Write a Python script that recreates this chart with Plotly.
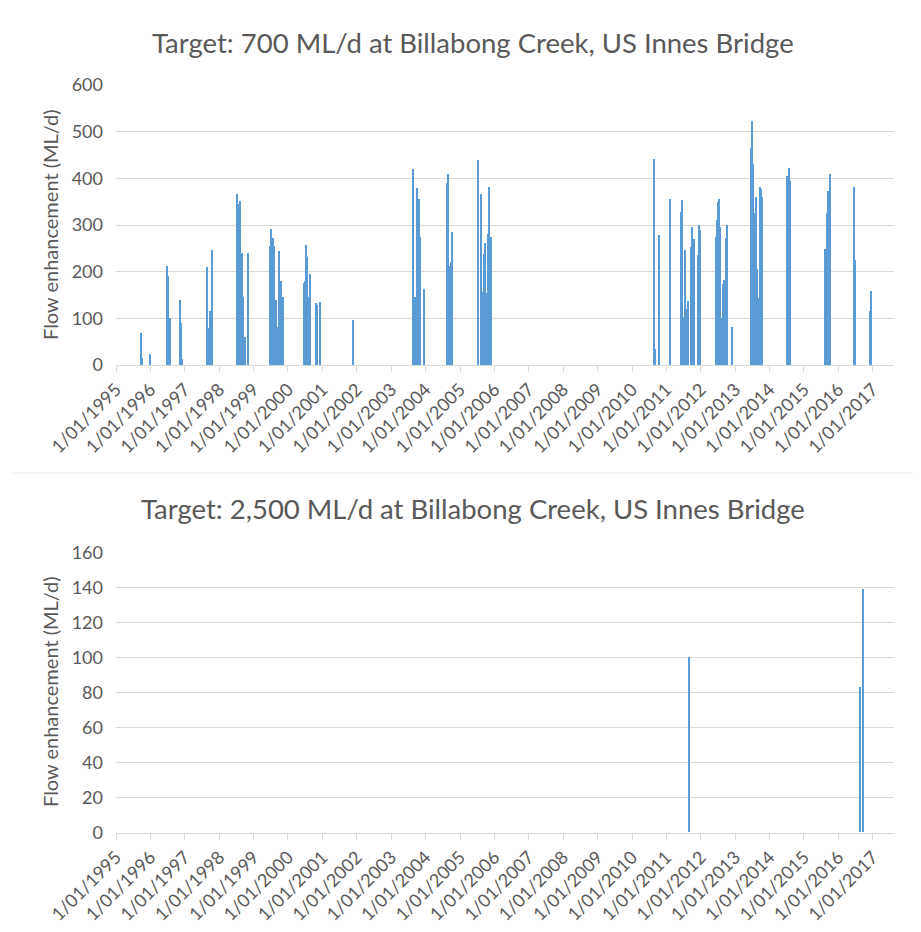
import plotly.graph_objects as go

# ---------------- data ----------------
top_dates = [
    "1995-09-28", "1995-10-08", "1995-12-27",
    "1996-07-01", "1996-07-11", "1996-07-20", "1996-07-30",
    "1996-11-16", "1996-11-26", "1996-12-07",
    "1997-08-27", "1997-09-20", "1997-10-01", "1997-10-22",
    "1998-07-06", "1998-07-20", "1998-07-27", "1998-08-10", "1998-08-21",
    "1998-09-02", "1998-09-14", "1998-10-04", "1998-10-31",
    "1999-06-24", "1999-07-05", "1999-07-14", "1999-07-24", "1999-08-04",
    "1999-08-11", "1999-08-27", "1999-09-07", "1999-09-30", "1999-10-21",
    "1999-11-01", "1999-11-11",
    "2000-06-17", "2000-06-30", "2000-07-08", "2000-07-18", "2000-07-29",
    "2000-08-18", "2000-10-24", "2000-11-07", "2000-12-06",
    "2001-11-19",
    "2003-08-26", "2003-08-31", "2003-09-14", "2003-09-29", "2003-10-07",
    "2003-10-20", "2003-10-31", "2003-12-12",
    "2004-08-18", "2004-08-31", "2004-09-19", "2004-09-30", "2004-10-13",
    "2005-07-09", "2005-08-12", "2005-08-23", "2005-09-02", "2005-09-16",
    "2005-09-26", "2005-10-12", "2005-10-25", "2005-11-08", "2005-11-24",
    "2010-08-19", "2010-08-26", "2010-09-02", "2010-10-11", "2010-10-20",
    "2011-02-06",
    "2011-06-05", "2011-06-14", "2011-07-09", "2011-07-20", "2011-07-28",
    "2011-08-08", "2011-08-22", "2011-09-25", "2011-10-03", "2011-10-14",
    "2011-10-24", "2011-11-29", "2011-12-10", "2011-12-16", "2011-12-27",
    "2012-06-10", "2012-06-21", "2012-06-30", "2012-07-09", "2012-07-20",
    "2012-08-13", "2012-08-27", "2012-09-07", "2012-09-14", "2012-09-28",
    "2012-10-07", "2012-12-03",
    "2013-06-16", "2013-06-28", "2013-07-06", "2013-07-18", "2013-08-02",
    "2013-08-15", "2013-08-24", "2013-09-05", "2013-09-18", "2013-09-30",
    "2013-10-15",
    "2014-07-10", "2014-07-21", "2014-07-31", "2014-08-11",
    "2015-08-17", "2015-08-31", "2015-09-11", "2015-09-21", "2015-10-02",
    "2016-06-18", "2016-06-25", "2016-11-28", "2016-12-09",
]
top_values = [
    68, 14, 23,
    213, 191, 71, 100,
    139, 89, 12,
    209, 79, 116, 246,
    366, 345, 345, 351, 129,
    239, 146, 61, 241,
    255, 291, 226, 272, 251,
    255, 139, 82, 244, 180,
    107, 145,
    176, 181, 257, 232, 145,
    195, 133, 129, 136,
    97,
    420, 78, 146, 358, 380,
    356, 274, 162,
    391, 410, 213, 221, 285,
    439, 366, 156, 141, 237,
    261, 154, 281, 382, 274,
    437, 441, 34, 169, 279,
    356,
    327, 353, 102, 246, 120,
    50, 138, 252, 296, 248,
    271, 236, 299, 226, 289,
    275, 310, 350, 356, 296,
    101, 174, 182, 29, 272,
    301, 81,
    466, 523, 431, 325, 299,
    361, 206, 143, 382, 378,
    361,
    406, 348, 422, 395,
    249, 326, 373, 237, 409,
    382, 224, 116, 159,
]

bottom_dates = ["2011-09-01", "2016-08-14", "2016-08-21", "2016-09-15"]
bottom_values = [100, 12, 83, 139]

tick_dates = [f"{y}-01-01" for y in range(1995, 2018)]
tick_labels = [f"1/01/{y}" for y in range(1995, 2018)]

title_top = "Target: 700 ML/d at Billabong Creek, US Innes Bridge"
title_bottom = "Target: 2,500 ML/d at Billabong Creek, US Innes Bridge"
y_title = "Flow enhancement (ML/d)"

# ---------------- figure ----------------
# page body has an 8px margin; size the figure so it fills the 921x932 window
OFF = 8
W, H = 905, 916
BAR = "#5b9bd5"
GRID = "#d9d9d9"
TXT = "#595959"
FONT = "Lato"
day_ms = 86400000

def px_x(p):
    return (p - OFF) / W

def px_y(p):
    return 1 - (p - OFF) / H

fig = go.Figure()
fig.add_trace(go.Bar(x=top_dates, y=top_values, width=[12 * day_ms] * len(top_dates),
                     marker=dict(color=BAR, line=dict(width=0)),
                     xaxis="x", yaxis="y", showlegend=False))
fig.add_trace(go.Bar(x=bottom_dates, y=bottom_values, width=[8 * day_ms] * len(bottom_dates),
                     marker=dict(color=BAR, line=dict(width=0)),
                     xaxis="x2", yaxis="y2", showlegend=False))

xdom = [px_x(116), px_x(894)]
xcommon = dict(
    type="date", range=["1995-01-01", "2017-08-14"], automargin=False,
    tickmode="array", tickvals=tick_dates, ticktext=tick_labels,
    tickangle=-45, ticks="outside", ticklen=6, tickcolor=GRID, tickwidth=1,
    showline=True, linecolor=GRID, linewidth=1, showgrid=False, zeroline=False,
    tickfont=dict(family=FONT, size=18, color=TXT), domain=xdom,
)
ycommon = dict(
    showgrid=True, gridcolor=GRID, gridwidth=1, zeroline=False, showline=False,
    automargin=False,
    ticks="", tickfont=dict(family=FONT, size=18, color=TXT), ticklabelstandoff=12,
)

fig.update_layout(
    width=W, height=H,
    margin=dict(l=0, r=0, t=0, b=0, autoexpand=False),
    paper_bgcolor="white", plot_bgcolor="white",
    bargap=0,
    xaxis=dict(**xcommon, anchor="y"),
    yaxis=dict(**ycommon, range=[0, 600], dtick=100, domain=[px_y(365), px_y(85)], anchor="x"),
    xaxis2=dict(**xcommon, anchor="y2"),
    yaxis2=dict(**ycommon, range=[0, 160], dtick=20, domain=[px_y(832.7), px_y(552.3)], anchor="x2"),
    annotations=[
        dict(text=title_top, x=px_x(473), y=px_y(42), xref="paper", yref="paper",
             xanchor="center", yanchor="middle", showarrow=False,
             font=dict(family=FONT, size=27.5, color=TXT)),
        dict(text=title_bottom, x=px_x(473), y=px_y(508), xref="paper", yref="paper",
             xanchor="center", yanchor="middle", showarrow=False,
             font=dict(family=FONT, size=27.5, color=TXT)),
        dict(text=y_title, x=px_x(50), y=px_y(225), xref="paper", yref="paper",
             xanchor="center", yanchor="middle", showarrow=False, textangle=-90,
             font=dict(family=FONT, size=20, color=TXT)),
        dict(text=y_title, x=px_x(50), y=px_y(692), xref="paper", yref="paper",
             xanchor="center", yanchor="middle", showarrow=False, textangle=-90,
             font=dict(family=FONT, size=20, color=TXT)),
    ],
    shapes=[
        dict(type="line", xref="paper", yref="paper", x0=px_x(10), x1=1,
             y0=px_y(6), y1=px_y(6), line=dict(color="#ececec", width=1)),
        dict(type="line", xref="paper", yref="paper", x0=px_x(10), x1=1,
             y0=px_y(473), y1=px_y(473), line=dict(color="#ececec", width=1)),
    ],
)

fig.write_html("out.html")
